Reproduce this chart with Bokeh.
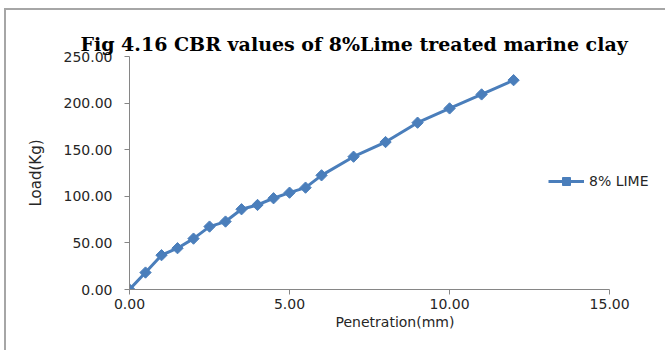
from bokeh.plotting import figure
from bokeh.models import Range1d, Legend, LegendItem, NumeralTickFormatter, FixedTicker
from bokeh.embed import file_html
from bokeh.resources import INLINE
import numpy as np

title_text = "Fig 4.16 CBR values of 8%Lime treated marine clay"
series_name = "8% LIME"
penetration = [0, 0.5, 1.0, 1.5, 2.0, 2.5, 3.0, 3.5, 4.0, 4.5, 5.0, 5.5, 6.0, 7.0, 8.0, 9.0, 10.0, 11.0, 12.0]
load = [0, 18.2, 36.8, 44.3, 54.6, 67.5, 72.9, 86.1, 90.7, 97.9, 103.9, 109.3, 122.5, 142.5, 158.2, 179.0, 194.3, 209.3, 224.6]
x_ticks = [0, 5, 10, 15]
y_ticks = [0, 50, 100, 150, 200, 250]

BLUE = "#4a7ebb"
AXIS = "#868686"
TXT = "#262626"
FONT = "DejaVu Sans"

p = figure(width=665, height=350, output_backend="svg", toolbar_location=None,
           x_range=Range1d(0, 16.59), y_range=Range1d(0, 250),
           min_border_left=129, min_border_right=5, min_border_top=56, min_border_bottom=61)
p.outline_line_color = None
p.grid.visible = False
p.background_fill_color = "white"
p.border_fill_alpha = 0
p.styles = {
    "background": "linear-gradient(#a6a6a6,#a6a6a6) 4px 8px / 2px 100% no-repeat, "
                  "linear-gradient(#a6a6a6,#a6a6a6) 4px 8px / 100% 2px no-repeat, white"
}

line = p.line(penetration, load, line_color=BLUE, line_width=3)
marks = p.scatter(penetration, load, marker="square", angle=np.pi / 4, size=8,
                  fill_color=BLUE, line_color=BLUE)

for ax in (p.xaxis[0], p.yaxis[0]):
    ax.axis_line_color = AXIS
    ax.major_tick_line_color = AXIS
    ax.minor_tick_line_color = None
    ax.major_tick_out = 5
    ax.major_tick_in = 0
    ax.major_label_text_font = FONT
    ax.major_label_text_font_size = "14px"
    ax.major_label_text_color = TXT
    ax.axis_label_text_font = FONT
    ax.axis_label_text_font_size = "14px"
    ax.axis_label_text_font_style = "normal"
    ax.axis_label_text_color = TXT
    ax.formatter = NumeralTickFormatter(format="0.00")

p.xaxis.bounds = (0, 15)
p.yaxis.bounds = (0, 250)
p.xaxis.ticker = FixedTicker(ticks=x_ticks)
p.yaxis.ticker = FixedTicker(ticks=y_ticks)
p.xaxis.axis_label = "Penetration(mm)"
p.yaxis.axis_label = "Load(Kg)"
p.yaxis.axis_label_text_font_size = "15px"
p.xaxis.major_label_standoff = 4
p.yaxis.major_label_standoff = 12
p.xaxis.axis_label_standoff = 2
p.yaxis.axis_label_standoff = 16

p.title.text = title_text
p.title.text_font = "DejaVu Serif"
p.title.text_font_style = "bold"
p.title.text_font_size = "19px"
p.title.text_color = "#000000"
p.title.align = "left"
p.title.offset = -49
p.title.standoff = 4

legend = Legend(items=[LegendItem(label=series_name, renderers=[line, marks])],
                location=(419, 98), border_line_color=None, background_fill_alpha=0,
                padding=0, margin=0, glyph_width=36, glyph_height=20, label_standoff=5,
                label_text_font=FONT, label_text_font_size="14px", label_text_color=TXT)
p.add_layout(legend, "center")

open("out.html", "w").write(file_html(p, INLINE))
